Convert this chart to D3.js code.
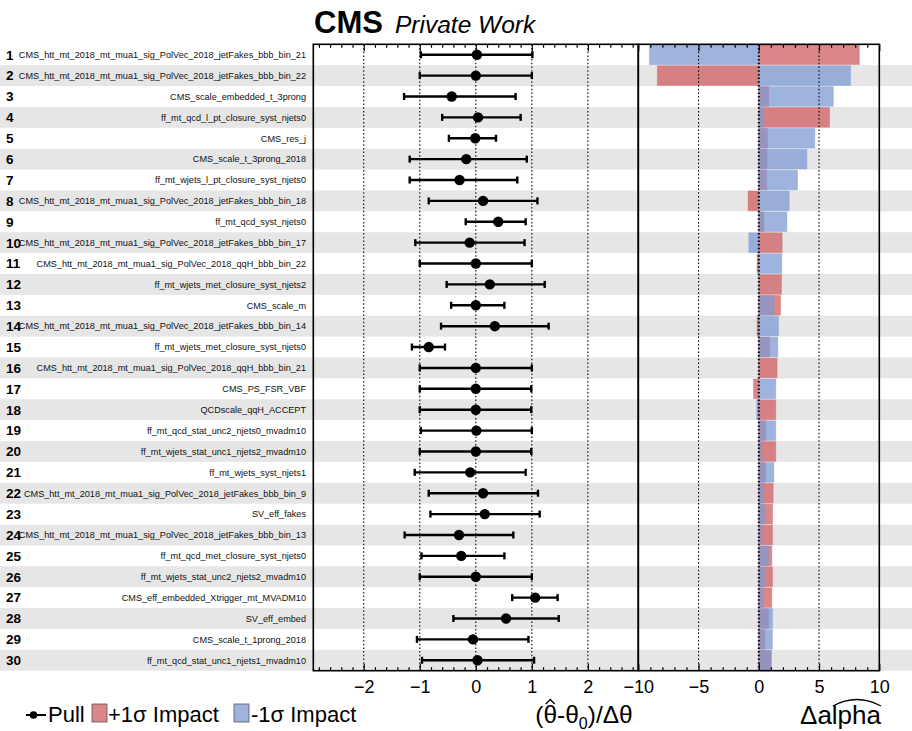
<!DOCTYPE html>
<html><head><meta charset="utf-8">
<script src="https://cdn.jsdelivr.net/npm/d3@7"></script>
<style>
body{margin:0;background:#fff;}
text{font-family:"Liberation Sans",Arial,Helvetica,sans-serif;}
</style></head>
<body><svg id="c" width="912" height="731"></svg>
<script>
const labels = [
"CMS_htt_mt_2018_mt_mua1_sig_PolVec_2018_jetFakes_bbb_bin_21",
"CMS_htt_mt_2018_mt_mua1_sig_PolVec_2018_jetFakes_bbb_bin_22",
"CMS_scale_embedded_t_3prong",
"ff_mt_qcd_l_pt_closure_syst_njets0",
"CMS_res_j",
"CMS_scale_t_3prong_2018",
"ff_mt_wjets_l_pt_closure_syst_njets0",
"CMS_htt_mt_2018_mt_mua1_sig_PolVec_2018_jetFakes_bbb_bin_18",
"ff_mt_qcd_syst_njets0",
"CMS_htt_mt_2018_mt_mua1_sig_PolVec_2018_jetFakes_bbb_bin_17",
"CMS_htt_mt_2018_mt_mua1_sig_PolVec_2018_qqH_bbb_bin_22",
"ff_mt_wjets_met_closure_syst_njets2",
"CMS_scale_m",
"CMS_htt_mt_2018_mt_mua1_sig_PolVec_2018_jetFakes_bbb_bin_14",
"ff_mt_wjets_met_closure_syst_njets0",
"CMS_htt_mt_2018_mt_mua1_sig_PolVec_2018_qqH_bbb_bin_21",
"CMS_PS_FSR_VBF",
"QCDscale_qqH_ACCEPT",
"ff_mt_qcd_stat_unc2_njets0_mvadm10",
"ff_mt_wjets_stat_unc1_njets2_mvadm10",
"ff_mt_wjets_syst_njets1",
"CMS_htt_mt_2018_mt_mua1_sig_PolVec_2018_jetFakes_bbb_bin_9",
"SV_eff_fakes",
"CMS_htt_mt_2018_mt_mua1_sig_PolVec_2018_jetFakes_bbb_bin_13",
"ff_mt_qcd_met_closure_syst_njets0",
"ff_mt_wjets_stat_unc2_njets2_mvadm10",
"CMS_eff_embedded_Xtrigger_mt_MVADM10",
"SV_eff_embed",
"CMS_scale_t_1prong_2018",
"ff_mt_qcd_stat_unc1_njets1_mvadm10"
];
// pull central values and absolute error-bar ends
const pull   = [0.02,0.00,-0.43,0.04,-0.01,-0.17,-0.29,0.13,0.40,-0.11,0.00,0.25,0.00,0.34,-0.84,0.00,0.00,0.00,0.01,0.00,-0.10,0.13,0.16,-0.30,-0.26,0.00,1.06,0.54,-0.05,0.03];
const pullLo = [-0.98,-1.00,-1.28,-0.60,-0.48,-1.18,-1.18,-0.84,-0.18,-1.08,-1.00,-0.52,-0.44,-0.62,-1.14,-1.00,-1.00,-1.00,-0.98,-1.00,-1.09,-0.84,-0.81,-1.27,-0.97,-1.00,0.65,-0.40,-1.05,-0.96];
const pullHi = [1.01,1.00,0.71,0.80,0.36,0.91,0.74,1.10,0.89,0.87,1.00,1.23,0.51,1.30,-0.55,1.00,0.99,0.99,1.00,0.99,0.89,1.11,1.14,0.67,0.51,1.00,1.46,1.48,0.94,1.04];
// impacts
const impactUp   = [8.34,-8.42,0.83,5.87,0.72,0.66,0.66,-0.89,0.42,1.94,-0.14,1.88,1.80,-0.14,0.91,1.52,-0.44,1.41,0.58,1.41,0.55,1.19,1.14,1.14,1.08,1.14,1.08,0.80,0.50,1.00];
const impactDown = [-9.08,7.62,6.18,0.42,4.65,3.99,3.21,2.52,2.33,-0.83,1.91,0.05,1.25,1.63,1.58,0.05,1.41,-0.17,1.41,0.25,1.25,0.39,0.55,0.25,0.80,0.50,0.39,1.14,1.14,1.05];
const pullTicks = [-2,-1,0,1,2];
const impactTicks = [-10,-5,0,5,10];

const svg = d3.select("#c");
const W = 912;
const yTop = 44.3, yBot = 670.7;
const rows = d3.range(1, labels.length + 1);
const y = d3.scaleBand().domain(rows).range([yTop, yBot]);
const xp = d3.scaleLinear().domain([-2.9, 2.9]).range([313.3, 638.3]);
const xi = d3.scaleLinear().domain([-10, 10]).range([638.3, 879.3]);

// stripes
svg.append("g").selectAll("rect").data(rows.filter(r => r % 2 === 0)).join("rect")
  .attr("x", 0).attr("width", W).attr("y", d => y(d)).attr("height", y.bandwidth())
  .attr("fill", "#e6e6e6");

// labels
const lg = svg.append("g");
rows.forEach((r, i) => {
  lg.append("text").attr("x", 6).attr("y", y(r) + y.bandwidth()/2).attr("dy", "0.36em")
    .attr("font-size", 13.5).attr("font-weight", "bold").attr("fill", "#000").text(r);
  lg.append("text").attr("x", 306).attr("y", y(r) + y.bandwidth()/2).attr("dy", "0.36em")
    .attr("text-anchor", "end").attr("font-size", 9.15).attr("fill", "#111").text(labels[i]);
});

// grid dotted lines
const gl = svg.append("g").attr("stroke", "#000").attr("stroke-dasharray", "1.5,2.2");
pullTicks.forEach(t => gl.append("line").attr("x1", xp(t)).attr("x2", xp(t)).attr("y1", yTop).attr("y2", yBot).attr("stroke-width", 1.1));

// impact bars
const ig = svg.append("g");
function bars(vals, col) {
  ig.append("g").selectAll("rect").data(vals).join("rect")
    .attr("x", d => xi(Math.min(0, d))).attr("width", d => Math.abs(xi(d) - xi(0)))
    .attr("y", (d, i) => y(rows[i]) + 0.6).attr("height", y.bandwidth() - 1.2)
    .attr("fill", col).attr("fill-opacity", 0.75)
    .attr("stroke", col).attr("stroke-opacity", 0.35).attr("stroke-width", 1);
}
bars(impactUp, "rgb(207,94,97)");
bars(impactDown, "rgb(125,153,209)");

const gl2 = svg.append("g").attr("stroke", "#000").attr("stroke-dasharray", "1.5,2.2");
[-5, 5].forEach(t => gl2.append("line").attr("x1", xi(t)).attr("x2", xi(t)).attr("y1", yTop).attr("y2", yBot).attr("stroke-width", 1.1));
gl2.append("line").attr("x1", xi(0)).attr("x2", xi(0)).attr("y1", yTop).attr("y2", yBot).attr("stroke-width", 2);

// pulls
const pg = svg.append("g").attr("stroke", "#000");
rows.forEach((r, i) => {
  const cy = y(r) + y.bandwidth()/2;
  pg.append("line").attr("x1", xp(pullLo[i])).attr("x2", xp(pullHi[i])).attr("y1", cy).attr("y2", cy).attr("stroke-width", 2.4);
  [pullLo[i], pullHi[i]].forEach(v => pg.append("line").attr("x1", xp(v)).attr("x2", xp(v)).attr("y1", cy - 3.5).attr("y2", cy + 3.5).attr("stroke-width", 2.4));
  pg.append("circle").attr("cx", xp(pull[i])).attr("cy", cy).attr("r", 5.2).attr("fill", "#000").attr("stroke", "none");
});

// axes
function axes(scale, major, minor) {
  const fmt = d3.format("d");
  const b = svg.append("g").attr("transform", `translate(0,${yBot})`)
    .call(d3.axisBottom(scale).tickValues(major).tickSizeInner(-7).tickSizeOuter(0).tickPadding(10).tickFormat(fmt));
  b.select(".domain").remove();
  b.selectAll("text").attr("font-size", 18).attr("font-family", '"Liberation Sans",Arial,sans-serif').attr("fill", "#000");
  b.selectAll("line").attr("stroke-width", 1.2);
  const bm = svg.append("g").attr("transform", `translate(0,${yBot})`)
    .call(d3.axisBottom(scale).tickValues(minor).tickSizeInner(-3.5).tickSizeOuter(0).tickFormat(""));
  bm.select(".domain").remove();
  bm.selectAll("line").attr("stroke-width", 1.2);
  const t = svg.append("g").attr("transform", `translate(0,${yTop})`)
    .call(d3.axisTop(scale).tickValues(major).tickSizeInner(-7).tickSizeOuter(0).tickFormat(""));
  t.select(".domain").remove();
  t.selectAll("line").attr("stroke-width", 1.2);
  const tm = svg.append("g").attr("transform", `translate(0,${yTop})`)
    .call(d3.axisTop(scale).tickValues(minor).tickSizeInner(-3.5).tickSizeOuter(0).tickFormat(""));
  tm.select(".domain").remove();
  tm.selectAll("line").attr("stroke-width", 1.2);
}
const pMinor = d3.range(-14, 15).map(k => k * 0.2).filter(v => Math.abs(v - Math.round(v)) > 1e-6);
const iMinor = d3.range(-9, 10).filter(v => v % 5 !== 0);
axes(xp, pullTicks, pMinor);
axes(xi, impactTicks, iMinor);

// frames
svg.append("rect").attr("x", xp.range()[0]).attr("y", yTop).attr("width", xp.range()[1] - xp.range()[0]).attr("height", yBot - yTop)
  .attr("fill", "none").attr("stroke", "#000").attr("stroke-width", 1.6);
svg.append("rect").attr("x", xi.range()[0]).attr("y", yTop).attr("width", xi.range()[1] - xi.range()[0]).attr("height", yBot - yTop)
  .attr("fill", "none").attr("stroke", "#000").attr("stroke-width", 1.6);

// title
svg.append("text").attr("x", 314).attr("y", 33).attr("font-size", 31).attr("font-weight", "bold").text("CMS");
svg.append("text").attr("x", 395).attr("y", 33).attr("font-size", 24.5).attr("font-style", "italic").text("Private Work");

// axis titles
const at = svg.append("text").attr("x", 584).attr("y", 723).attr("text-anchor", "middle").attr("font-size", 24.5);
at.append("tspan").text("(\u03B8-\u03B8");
at.append("tspan").attr("font-size", 16).attr("dy", 6).text("0");
at.append("tspan").attr("dy", -6).text(")/\u0394\u03B8");
{
  const n = at.node();
  const e = n.getExtentOfChar(1);
  const cx = e.x + e.width / 2;
  const ty = 723 - 24.5 * 0.78;
  svg.append("path").attr("d", `M${cx - 4.5},${ty} L${cx},${ty - 4.5} L${cx + 4.5},${ty}`)
    .attr("fill", "none").attr("stroke", "#000").attr("stroke-width", 1.4);
}

const al = svg.append("text").attr("x", 881).attr("y", 724).attr("text-anchor", "end").attr("font-size", 26).text("\u0394alpha");
{
  const n = al.node();
  const e2 = n.getExtentOfChar(2), e5 = n.getExtentOfChar(5);
  const x1 = e2.x + 1, x2 = e5.x + e5.width;
  const yb = e2.y + e2.height * 0.2;
  svg.append("path").attr("d", `M${x1},${yb} Q${(x1 + x2) / 2},${yb - 13} ${x2},${yb}`)
    .attr("fill", "none").attr("stroke", "#000").attr("stroke-width", 1.3);
}

// legend
const leg = svg.append("g");
leg.append("line").attr("x1", 26).attr("x2", 46).attr("y1", 715).attr("y2", 715).attr("stroke", "#000").attr("stroke-width", 2);
leg.append("circle").attr("cx", 33.5).attr("cy", 715).attr("r", 3.8).attr("fill", "#000");
leg.append("text").attr("x", 48).attr("y", 722).attr("font-size", 22).text("Pull");
leg.append("rect").attr("x", 92).attr("y", 704).attr("width", 15).attr("height", 18).attr("fill", "rgb(207,94,97)").attr("fill-opacity", 0.75).attr("stroke", "#555").attr("stroke-width", 0.8);
leg.append("text").attr("x", 108).attr("y", 722).attr("font-size", 22).text("+1\u03C3 Impact");
leg.append("rect").attr("x", 234).attr("y", 704).attr("width", 15).attr("height", 18).attr("fill", "rgb(125,153,209)").attr("fill-opacity", 0.75).attr("stroke", "#555").attr("stroke-width", 0.8);
leg.append("text").attr("x", 251).attr("y", 722).attr("font-size", 22).text("-1\u03C3 Impact");
</script></body></html>
